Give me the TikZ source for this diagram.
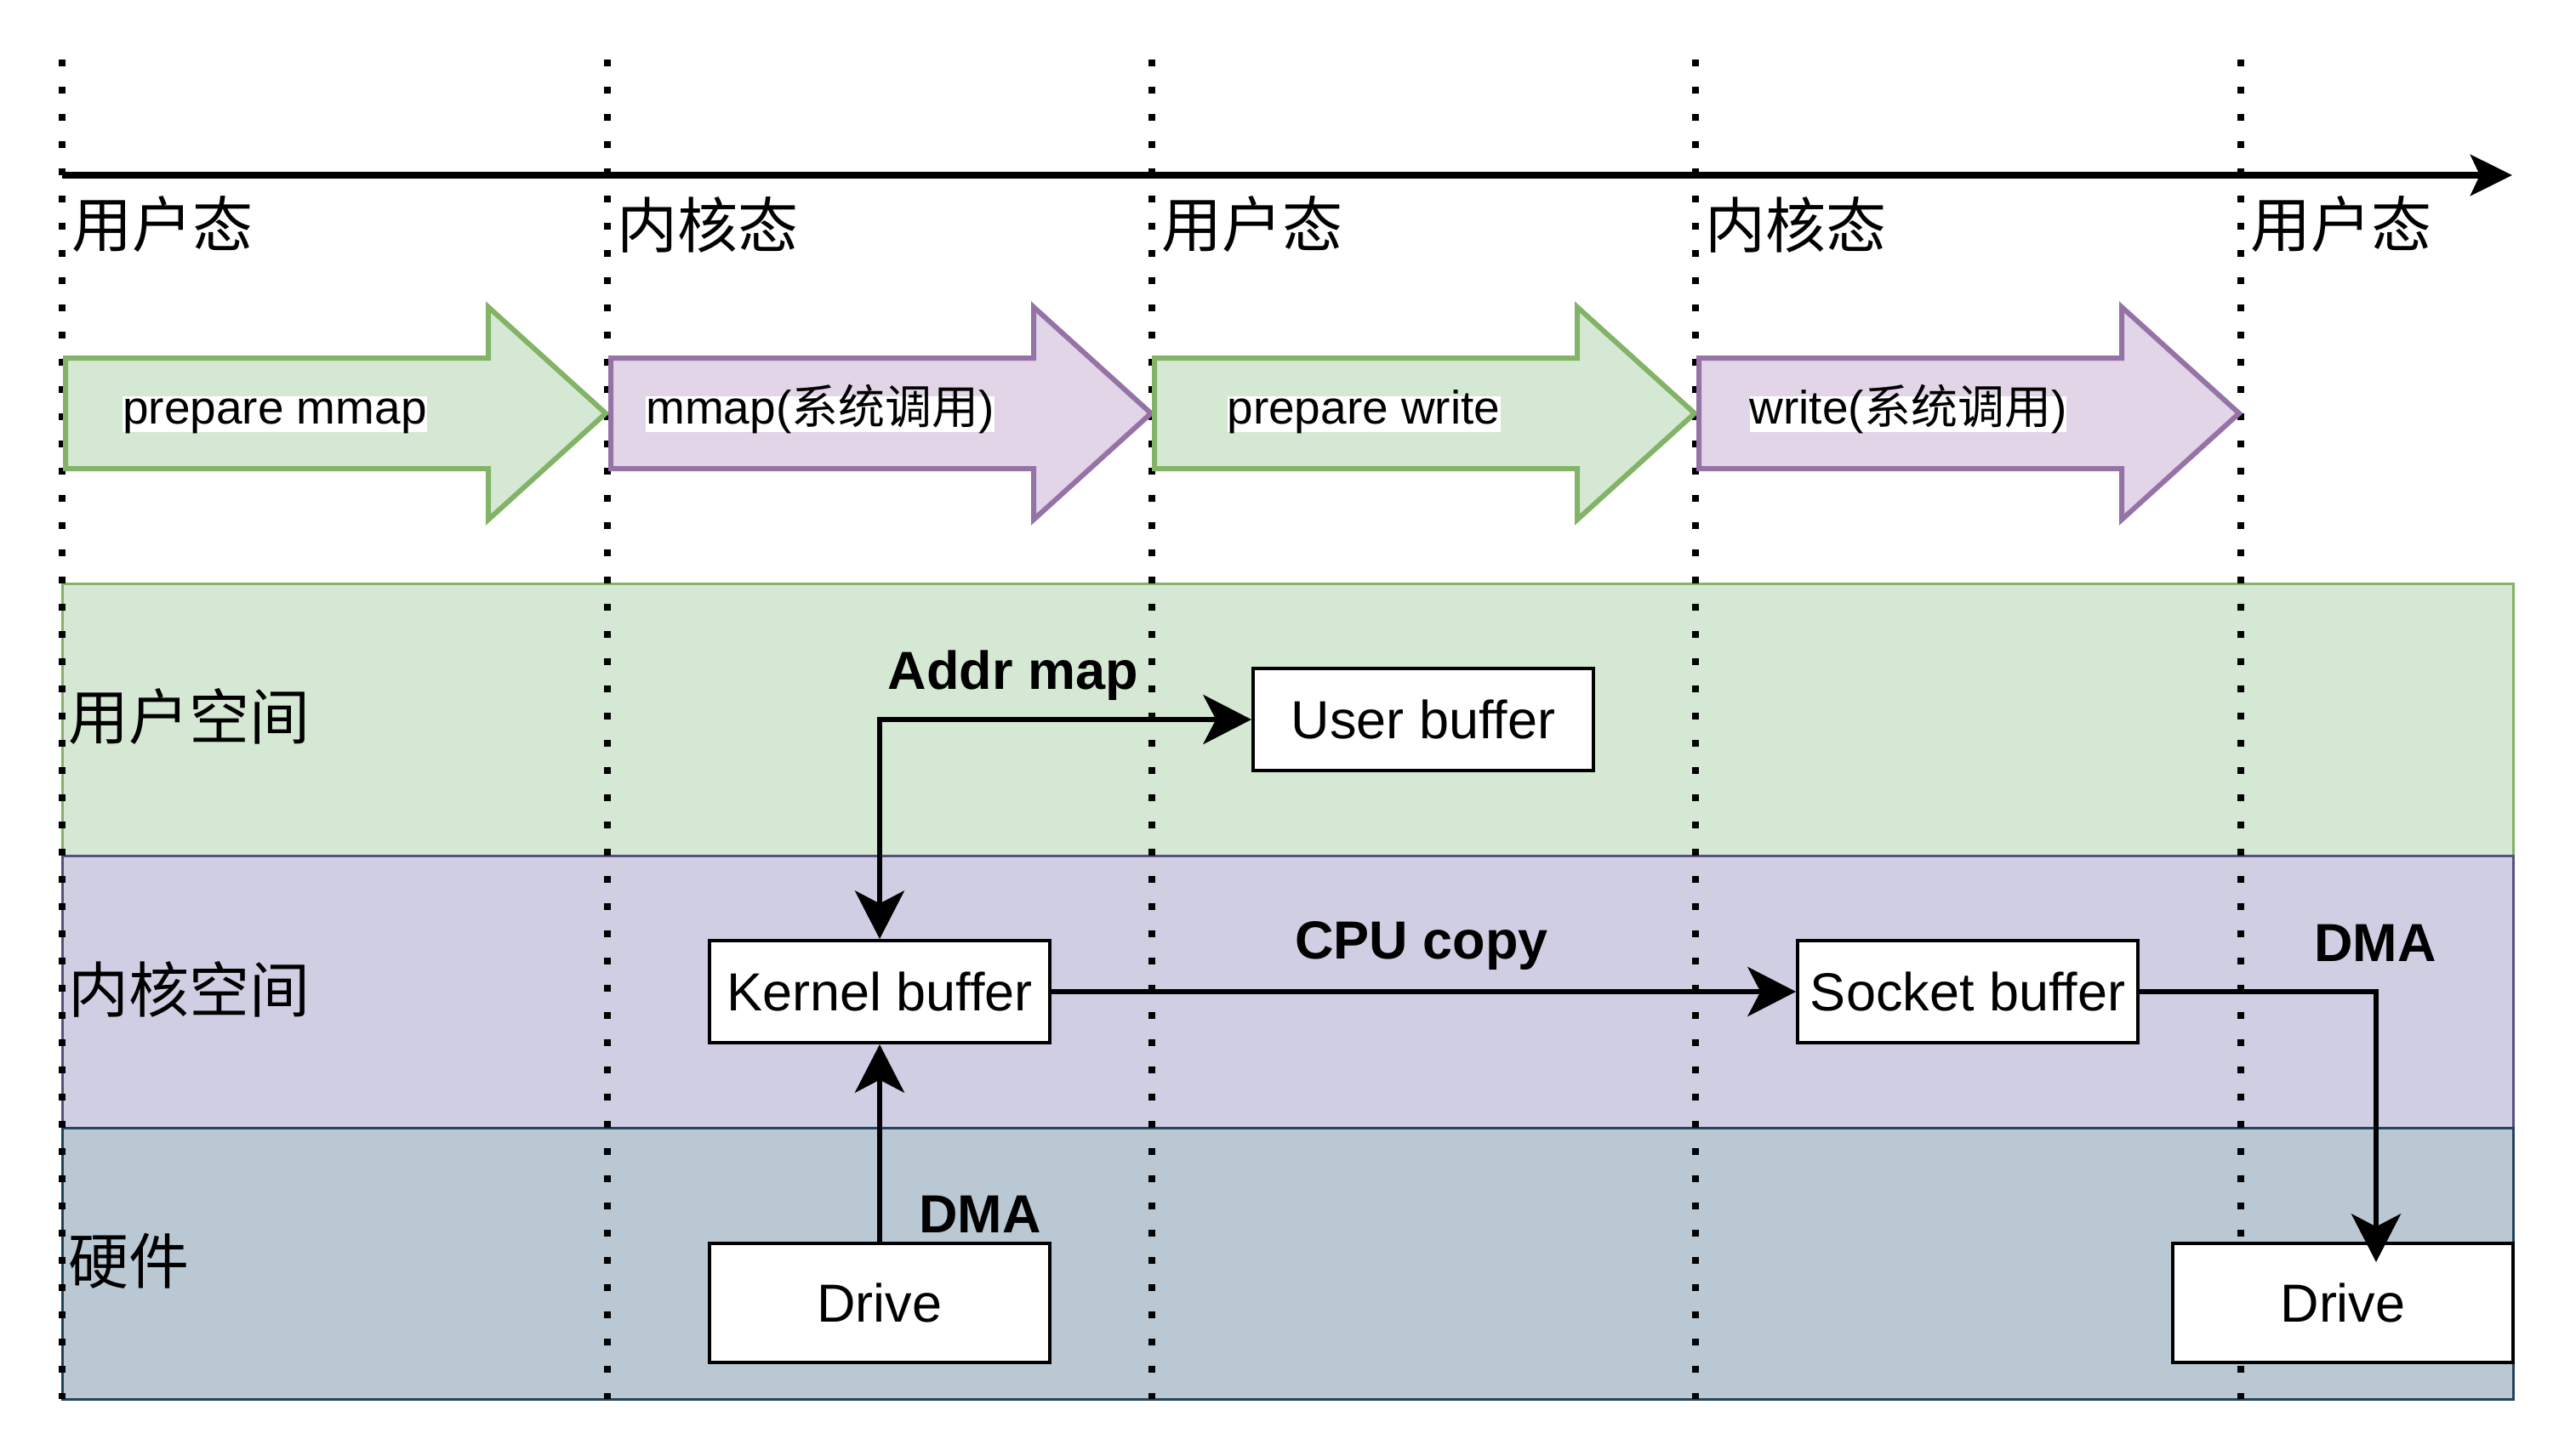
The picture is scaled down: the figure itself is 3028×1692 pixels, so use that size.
\documentclass[tikz,border=0pt]{standalone}
\usepackage{fontspec}
\setmainfont{Liberation Sans}
\newfontfamily\cjk{Noto Sans CJK SC}
\usetikzlibrary{arrows.meta}
\definecolor{gfill}{HTML}{D5E8D4}
\definecolor{gline}{HTML}{82B366}
\definecolor{pfill}{HTML}{E1D5E7}
\definecolor{pline}{HTML}{9673A6}
\definecolor{kfill}{HTML}{D0CEE2}
\definecolor{kline}{HTML}{56517E}
\definecolor{hfill}{HTML}{BAC8D3}
\definecolor{hline}{HTML}{23445D}
\begin{document}
\begin{tikzpicture}[x=0.3pt,y=-0.3pt,
  lane/.style={line width=0.9pt},
  vdot/.style={line width=2.4pt, dash pattern=on 2.4pt off 7.2pt},
  bigarrow/.style={line width=1.8pt, line join=miter},
  albl/.style={fill=white, inner sep=0pt, text height=0.95em, text depth=0.29em, font=\fontsize{16.5pt}{19.8pt}\selectfont},
  boxnode/.style={draw, fill=white, line width=1.2pt, inner sep=0pt, minimum width=120pt, minimum height=36pt, font=\fontsize{18.9pt}{22pt}\selectfont},
  statelbl/.style={anchor=west, inner sep=0pt, font=\cjk\fontsize{21.3pt}{25pt}\selectfont},
  elbl/.style={anchor=base, inner sep=0pt, font=\bfseries\fontsize{18.9pt}{22pt}\selectfont},
  tipc/.style={line width=1.8pt},
  conn/.style={line width=1.8pt, -{Stealth[length=17pt, width=17.4pt, inset=4.5pt]}},
  bothconn/.style={line width=1.8pt, {Stealth[length=17pt, width=17.4pt, inset=4.5pt]}-{Stealth[length=17pt, width=17.4pt, inset=4.5pt]}}
]
\useasboundingbox (0,0) rectangle (3028,1692);
% lanes
\filldraw[lane, fill=gfill, draw=gline] (73,686) rectangle (2954,1006);
\filldraw[lane, fill=kfill, draw=kline] (73,1006) rectangle (2954,1326);
\filldraw[lane, fill=hfill, draw=hline] (73,1326) rectangle (2954,1645);
% dotted time lines
\foreach \xx in {73,714,1354,1993,2634}
  \draw[vdot] (\xx,70) -- (\xx,1645);
% time axis
\coordinate (axs) at (73,206);
\coordinate (axe) at (2953,206);
\draw[line width=2.4pt, -{Stealth[length=14.7pt, width=14.4pt, inset=3.3pt]}] (axs) -- (axe);
% state labels
\node[statelbl] (s1) at (84,264) {用户态};
\node[statelbl] (s2) at (725,264) {内核态};
\node[statelbl] (s3) at (1365,264) {用户态};
\node[statelbl] (s4) at (2004,264) {内核态};
\node[statelbl] (s5) at (2645,264) {用户态};
% lane labels
\node[statelbl] (l1) at (80,843) {用户空间};
\node[statelbl] (l2) at (80,1163) {内核空间};
\node[statelbl] (l3) at (80,1483) {硬件};
% big arrows
\foreach \xo/\fc/\lc in {77/gfill/gline, 718/pfill/pline, 1357/gfill/gline, 1997/pfill/pline}
  \filldraw[bigarrow, fill=\fc, draw=\lc] (\xo,421) -- ++(497,0) -- ++(0,-60) -- ++(138,125) -- ++(-138,125) -- ++(0,-60) -- (\xo,551) -- cycle;
\node[albl] (a1) at (323,487) {prepare mmap};
\node[albl] (a2) at (964,487) {mmap({\cjk 系统调用})};
\node[albl] (a3) at (1603,487) {prepare write};
\node[albl] (a4) at (2243,487) {write({\cjk 系统调用})};
% boxes
\node[boxnode] (ub) at (1673,846) {User buffer};
\node[boxnode] (kb) at (1034,1166) {Kernel buffer};
\node[boxnode, minimum height=42pt] (d1) at (1034,1532) {Drive};
\node[boxnode] (sb) at (2313,1166) {Socket buffer};
\node[boxnode, minimum height=42pt] (d2) at (2754,1532) {Drive};
% connectors
\draw[bothconn] (kb.north) |- (ub.west);
\draw[conn] (d1.north) -- (kb.south);
\draw[conn] (kb.east) -- (sb.west);
\coordinate (d2in) at ([xshift=11.7pt, yshift=-7.2pt]d2.north);
\draw[conn] (sb.east) -| (d2in);
% edge labels
\node[elbl] (t1) at (1191,810) {Addr map};
\node[elbl] (t2) at (1671,1127) {CPU copy};
\node[elbl] (t3) at (2792,1130) {DMA};
\node[elbl] (t4) at (1152,1449) {DMA};
\end{tikzpicture}
\end{document}
